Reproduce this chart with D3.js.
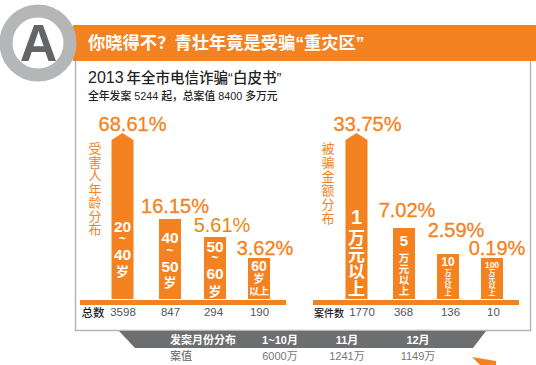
<!doctype html>
<html>
<head>
<meta charset="utf-8">
<script src="https://cdn.jsdelivr.net/npm/d3@7/dist/d3.min.js"></script>
<style>
body { margin: 0; background: #fff; }
svg { display: block; }
text { font-family: "Noto Sans CJK SC", "Liberation Sans", sans-serif; }
.num { font-family: "Liberation Sans", "Noto Sans CJK SC", sans-serif; }
.vt { writing-mode: vertical-rl; text-orientation: upright; }
</style>
</head>
<body>
<svg width="536" height="365"></svg>
<script>
var ageGroups = ["20-40", "40-50", "50-60", "60+"];
var agePct = [68.61, 16.15, 5.61, 3.62];
var ageCounts = [3598, 847, 294, 190];

var amountGroups = ["1w", "5w", "10w", "100w"];
var amountPct = [33.75, 7.02, 2.59, 0.19];
var amountCounts = [1770, 368, 136, 10];

var months = ["1~10月", "11月", "12月"];
var monthValues = ["6000万", "1241万", "1149万"];

var orange = "#f58220";
var svg = d3.select("svg");
var baseY = 299;

// header
svg.append("rect").attr("x", 73).attr("y", 25).attr("width", 463).attr("height", 36).attr("fill", orange);
svg.append("path").attr("d", "M75.5 61V330.5H530.5V61").attr("fill", "none").attr("stroke", "#b5b6b8").attr("stroke-width", 1.5);
svg.append("circle").attr("cx", 38).attr("cy", 43).attr("r", 32).attr("fill", "#fff").attr("stroke", "#b5b6b8").attr("stroke-width", 13);
svg.append("text").attr("class", "num").attr("x", 38.5).attr("y", 61).attr("text-anchor", "middle")
  .attr("font-size", 52).attr("font-weight", 700).attr("fill", "#646567").text("A");
svg.append("text").attr("class", "num").attr("x", 88).attr("y", 49).attr("font-size", 17.3).attr("font-weight", 700).attr("fill", "#fff")
  .text("你晓得不？青壮年竟是受骗“重灾区”");
var title = svg.append("text").attr("class", "num").attr("x", 88).attr("y", 83).attr("font-size", 14.5).attr("font-weight", 500).attr("fill", "#222");
title.append("tspan").attr("font-size", 16).text("2013");
title.append("tspan").attr("dx", 3).text("年全市电信诈骗“白皮书”");
svg.append("text").attr("class", "num").attr("x", 88).attr("y", 100).attr("font-size", 10.8).attr("font-weight", 500).attr("fill", "#222")
  .text("全年发案 5244 起，总案值 8400 多万元");

// bars are not to scale in the original, so the scales are piecewise
function drawPanel(cfg) {
  var x = d3.scaleOrdinal(cfg.groups, cfg.centers);
  var y = d3.scaleLinear(cfg.domain, cfg.range);
  var g = svg.append("g");

  g.selectAll("path.bar").data(cfg.pct).enter().append("path")
    .attr("class", "bar")
    .attr("fill", orange)
    .attr("d", function(d, i) {
      var c = x(cfg.groups[i]), l = c - 11, r = c + 11, top = y(d);
      if (i == 0) return "M" + l + " " + baseY + "V" + (top + 7) + "L" + c + " " + top + "L" + r + " " + (top + 7) + "V" + baseY + "Z";
      return "M" + l + " " + baseY + "V" + top + "H" + r + "V" + baseY + "Z";
    });

  g.selectAll("text.pct").data(cfg.pct).enter().append("text")
    .attr("class", "num pct")
    .attr("x", function(d, i) { return x(cfg.groups[i]) + cfg.pctDx[i]; })
    .attr("y", function(d, i) { return y(d) + cfg.pctDy[i]; })
    .attr("text-anchor", "middle")
    .attr("font-size", 20)
    .attr("stroke-width", function(d, i) { return i == 2 && cfg.pctColors ? 0 : 0.3; })
    .attr("stroke", function(d, i) { return cfg.pctColors ? cfg.pctColors[i] : orange; })
    .attr("fill", function(d, i) { return cfg.pctColors ? cfg.pctColors[i] : orange; })
    .text(function(d) { return d.toFixed(2) + "%"; });

  // labels inside the bars
  cfg.inner.forEach(function(lines, i) {
    lines.forEach(function(l) {
      g.append("text")
        .attr("class", "num")
        .attr("x", x(cfg.groups[i]))
        .attr("y", l[1])
        .attr("text-anchor", "middle")
        .attr("font-size", l[2])
        .attr("font-weight", 700)
        .attr("fill", "#fff")
        .text(l[0]);
    });
  });

  // vertical title
  g.append("text")
    .attr("class", "vt")
    .attr("x", cfg.titleX)
    .attr("y", 142)
    .attr("font-size", 13)
    .attr("letter-spacing", cfg.titleStep - 13)
    .attr("fill", orange)
    .text(cfg.title);

  g.append("rect").attr("x", cfg.bandX).attr("y", 300).attr("width", 206).attr("height", 5).attr("fill", orange);

  // counts row
  var axis = d3.axisBottom(x).tickSize(0).tickPadding(0)
    .tickFormat(function(d, i) { return cfg.counts[i]; });
  var ax = g.append("g").attr("transform", "translate(0,308)").call(axis);
  ax.select(".domain").remove();
  ax.selectAll("text").attr("class", "num").attr("font-size", 11.5).attr("fill", "#555")
    .attr("dx", function(d, i) { return cfg.countDx[i]; })
    .style("font-family", '"Liberation Sans"');

  g.append("text").attr("x", cfg.rowX).attr("y", 317).attr("text-anchor", "middle")
    .attr("font-size", cfg.rowSize).attr("font-weight", 500).attr("fill", "#222").text(cfg.rowLabel);
}

drawPanel({
  groups: ageGroups, pct: agePct, counts: ageCounts,
  centers: [122.5, 170, 215, 259],
  domain: [3.62, 5.61, 16.15, 68.61], range: [258, 237, 219, 133],
  pctDx: [10, 5, 7, 6], pctDy: [-2, -6, -5, -3],
  pctColors: [orange, orange, "#e8890c", orange],
  countDx: [0, 0, -2, 0],
  title: "受害人年龄分布", titleX: 95, titleStep: 13.5,
  bandX: 80, rowX: 93, rowSize: 11.5, rowLabel: "总数",
  inner: [
    [["20", 231.5, 15.5], ["~", 243, 12], ["40", 259.5, 15.5], ["岁", 276, 13]],
    [["40", 242.5, 15.5], ["~", 255, 12], ["50", 271.5, 15.5], ["岁", 287, 13]],
    [["50", 251.5, 15.5], ["~", 262, 12], ["60", 278.5, 15.5], ["岁", 296, 13]],
    [["60", 271, 14], ["岁", 283, 11], ["以上", 295, 10]]
  ]
});

drawPanel({
  groups: amountGroups, pct: amountPct, counts: amountCounts,
  centers: [356.5, 404, 448, 492],
  domain: [0.19, 2.59, 7.02, 33.75], range: [258, 254, 228, 133],
  pctDx: [11, 3, 8, 5], pctDy: [-2, -11, -17, -3],
  countDx: [5, -1, 2, 1],
  title: "被骗金额分布", titleX: 328, titleStep: 14,
  bandX: 313, rowX: 329, rowSize: 10, rowLabel: "案件数",
  inner: [
    [["1", 224, 20], ["万", 244, 17], ["元", 261, 17], ["以", 278, 17], ["上", 295, 17]],
    [["5", 246, 15], ["万", 262, 10.5], ["元", 273, 10.5], ["以", 284, 10.5], ["上", 295, 10.5]],
    [["10", 266, 12], ["万", 275, 7], ["元", 281.5, 7], ["以", 288, 7], ["上", 295, 7]],
    [["100", 268, 8.5], ["万", 275, 7], ["元", 281.5, 7], ["以", 288, 7], ["上", 295, 7]]
  ]
});

// month strip
svg.append("path").attr("d", "M119 331H486L473 348H135Z").attr("fill", "#6d6e70");
svg.append("path").attr("d", "M472 357L496 361V365H480Z").attr("fill", orange);
var mx = d3.scaleOrdinal(months, [280, 347, 418]);
svg.selectAll("text.month").data(months).enter().append("text")
  .attr("class", "num month").attr("x", mx).attr("y", 344).attr("text-anchor", "middle")
  .attr("font-size", 11).attr("font-weight", 700).attr("fill", "#fff").text(function(d) { return d; });
svg.selectAll("text.mval").data(monthValues).enter().append("text")
  .attr("class", "num mval").attr("x", function(d, i) { return mx(months[i]); }).attr("y", 360).attr("text-anchor", "middle")
  .attr("font-size", 11).attr("fill", "#777").text(function(d) { return d; });
svg.append("text").attr("x", 203).attr("y", 344).attr("text-anchor", "middle")
  .attr("font-size", 11).attr("font-weight", 700).attr("fill", "#fff").text("发案月份分布");
svg.append("text").attr("x", 181).attr("y", 360).attr("text-anchor", "middle")
  .attr("font-size", 11).attr("font-weight", 500).attr("fill", "#777").text("案值");
</script>
</body>
</html>
